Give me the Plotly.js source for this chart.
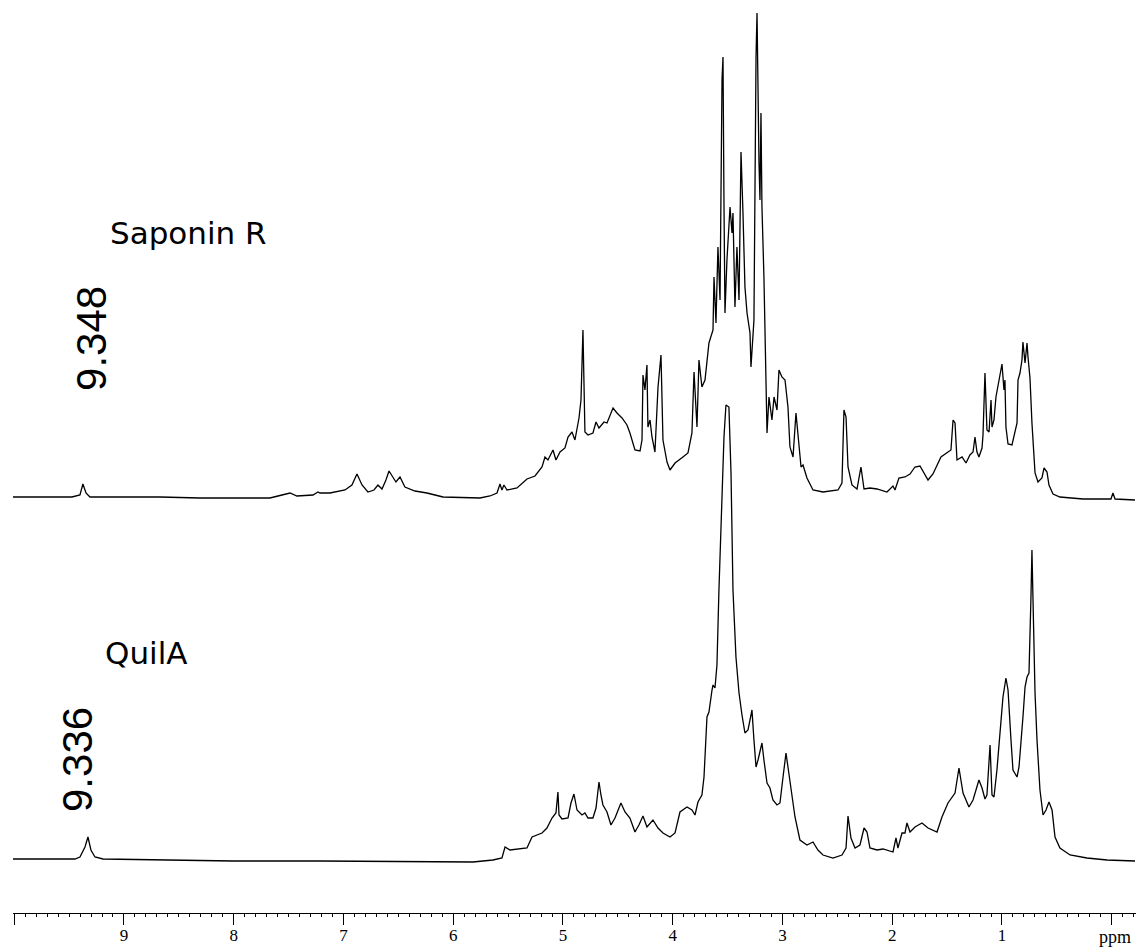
<!DOCTYPE html>
<html>
<head>
<meta charset="utf-8">
<script src="https://cdn.plot.ly/plotly-3.0.1.min.js"></script>
<style>html,body{margin:0;padding:0;background:#fff;}#chart{width:1141px;height:947px;}</style>
</head>
<body>
<div id="chart"></div>
<script>
// Chemical shift (ppm) and intensity (arbitrary units) for Saponin R
const saponinPpm = [10.011,9.474,9.401,9.374,9.346,9.310,8.672,8.308,7.670,7.551,7.487,7.424,7.278,7.232,7.214,7.123,6.986,6.923,6.877,6.831,6.777,6.722,6.686,6.649,6.613,6.585,6.549,6.522,6.485,6.440,6.349,6.239,6.093,5.756,5.665,5.601,5.574,5.556,5.538,5.510,5.419,5.328,5.255,5.191,5.164,5.137,5.091,5.064,5.027,4.982,4.954,4.918,4.891,4.854,4.836,4.818,4.800,4.772,4.727,4.699,4.672,4.626,4.599,4.544,4.508,4.462,4.417,4.390,4.344,4.298,4.280,4.271,4.253,4.235,4.226,4.207,4.189,4.162,4.134,4.107,4.089,4.052,4.025,3.979,3.907,3.861,3.825,3.806,3.779,3.761,3.734,3.706,3.670,3.633,3.624,3.606,3.588,3.569,3.551,3.542,3.533,3.524,3.506,3.478,3.460,3.451,3.433,3.415,3.396,3.378,3.360,3.342,3.323,3.296,3.287,3.269,3.260,3.241,3.232,3.214,3.205,3.196,3.187,3.169,3.150,3.141,3.123,3.096,3.077,3.050,3.032,3.005,2.977,2.950,2.932,2.904,2.877,2.859,2.831,2.813,2.777,2.722,2.631,2.494,2.458,2.440,2.421,2.403,2.367,2.321,2.285,2.257,2.203,2.139,2.048,1.993,1.975,1.939,1.884,1.838,1.793,1.747,1.720,1.674,1.629,1.592,1.556,1.492,1.465,1.446,1.428,1.410,1.364,1.328,1.292,1.264,1.246,1.228,1.210,1.182,1.173,1.155,1.146,1.137,1.118,1.100,1.091,1.073,1.055,1.036,1.009,1.000,0.982,0.973,0.964,0.945,0.909,0.891,0.863,0.854,0.836,0.818,0.809,0.790,0.772,0.763,0.745,0.727,0.718,0.699,0.672,0.636,0.617,0.590,0.572,0.535,0.472,0.262,0.007,-0.011,-0.030,-0.212];
const saponinInt = [0,0,2,13,4,0,0,-1,-1,2,4,1,2,5,4,4,7,12,23,12,5,7,12,8,17,26,19,15,20,10,6,4,0,-1,1,4,13,7,12,7,9,18,21,30,40,37,47,37,45,49,60,65,57,79,97,167,65,62,64,75,69,75,74,89,84,79,72,64,47,46,57,122,107,132,70,77,60,45,110,142,57,35,27,34,40,44,64,125,70,137,110,117,154,167,220,174,250,197,417,440,294,184,237,290,264,284,190,250,197,345,284,210,184,164,130,167,177,440,484,334,297,384,290,220,107,64,100,77,100,87,127,120,117,90,50,40,84,60,30,32,19,7,5,7,14,87,80,30,12,8,30,8,9,8,5,11,7,19,20,23,30,31,26,17,23,32,40,45,47,77,74,37,40,34,42,45,60,45,40,49,62,124,89,67,65,97,70,77,100,112,130,133,107,117,70,53,52,62,74,117,124,137,155,134,154,140,119,74,57,24,15,19,29,25,12,3,0,-2,-2,4,-2,-3];

// Chemical shift (ppm) and intensity (arbitrary units) for QuilA
const quilaPpm = [10.011,9.447,9.401,9.355,9.328,9.301,9.264,9.191,8.007,7.214,5.820,5.638,5.556,5.528,5.483,5.419,5.328,5.282,5.237,5.191,5.146,5.100,5.064,5.046,5.036,5.009,4.954,4.927,4.900,4.872,4.827,4.800,4.772,4.727,4.699,4.672,4.654,4.636,4.599,4.563,4.526,4.472,4.435,4.390,4.344,4.308,4.271,4.235,4.180,4.134,4.089,4.025,3.979,3.934,3.870,3.825,3.797,3.770,3.734,3.715,3.688,3.670,3.642,3.633,3.615,3.597,3.579,3.551,3.533,3.515,3.488,3.469,3.451,3.424,3.396,3.369,3.342,3.314,3.278,3.260,3.241,3.223,3.187,3.169,3.141,3.114,3.087,3.050,3.023,2.995,2.968,2.950,2.913,2.886,2.841,2.777,2.722,2.677,2.631,2.540,2.458,2.421,2.403,2.376,2.339,2.294,2.257,2.230,2.203,2.139,2.084,1.993,1.966,1.948,1.911,1.884,1.866,1.838,1.793,1.729,1.674,1.592,1.547,1.492,1.428,1.392,1.355,1.301,1.264,1.210,1.182,1.155,1.137,1.109,1.091,1.073,1.046,1.018,0.991,0.964,0.945,0.918,0.900,0.863,0.845,0.809,0.790,0.772,0.754,0.736,0.727,0.718,0.699,0.681,0.654,0.626,0.599,0.572,0.544,0.517,0.472,0.380,0.226,0.043,-0.212];
const quilaInt = [1,1,3,13,23,10,3,1,-1,-1,-2,0,2,13,10,11,12,23,25,27,32,42,47,68,45,41,42,57,66,50,45,47,42,42,52,78,65,55,48,35,42,57,48,42,28,35,44,33,40,32,27,23,27,48,53,50,45,58,65,83,143,148,170,175,172,195,270,353,423,455,453,387,270,203,167,145,127,130,150,120,93,100,117,100,77,72,60,55,57,83,107,93,62,43,20,15,18,10,5,2,5,12,44,22,12,15,32,28,12,10,11,8,22,12,27,27,37,28,33,37,32,28,43,57,67,92,67,53,60,80,72,61,65,115,65,63,90,127,163,182,170,120,90,83,93,143,173,183,187,263,310,263,167,120,70,45,50,58,50,23,12,5,2,0,-1];

// Axis ticks
const tickVals = [10,9,8,7,6,5,4,3,2,1,0];
const tickText = ["","9","8","7","6","5","4","3","2","1",""];

// Text labels
const sampleNames = ["Saponin R","QuilA"];
const shiftLabels = ["9.348","9.336"];
const unitLabel = "ppm";

const traces = [
  {x: saponinPpm, y: saponinInt, type: 'scatter', mode: 'lines', name: sampleNames[0],
   line: {color: '#000', width: 1.3}, yaxis: 'y2', hoverinfo: 'x+y'},
  {x: quilaPpm, y: quilaInt, type: 'scatter', mode: 'lines', name: sampleNames[1],
   line: {color: '#000', width: 1.3}, yaxis: 'y', hoverinfo: 'x+y'}
];

const layout = {
  width: 1141, height: 947,
  margin: {l: 13, r: 5, t: 0, b: 34, pad: 0},
  paper_bgcolor: '#fff', plot_bgcolor: '#fff',
  showlegend: false,
  xaxis: {
    range: [10.011, -0.221], autorange: false,
    showgrid: false, zeroline: false,
    showline: true, linecolor: '#000', linewidth: 1,
    ticks: 'outside', ticklen: 11, tickwidth: 1, tickcolor: '#000',
    ticklabelstandoff: -4,
    tickmode: 'array', tickvals: tickVals, ticktext: tickText,
    tickfont: {family: 'Liberation Serif', size: 17, color: '#000'},
    minor: {dtick: 0.1, tick0: 0, ticks: 'outside', ticklen: 3, tickwidth: 1, tickcolor: '#000', showgrid: false}
  },
  yaxis: {range: [-53, 860], visible: false, fixedrange: true},
  yaxis2: {range: [-416, 497], visible: false, overlaying: 'y', fixedrange: true},
  annotations: [
    {text: sampleNames[0], xref: 'paper', yref: 'paper', x: 0.1567, y: 0.7448, xanchor: 'center', yanchor: 'middle',
     showarrow: false, font: {family: 'DejaVu Sans', size: 31, color: '#000'}},
    {text: sampleNames[1], xref: 'paper', yref: 'paper', x: 0.1184, y: 0.2848, xanchor: 'center', yanchor: 'middle',
     showarrow: false, font: {family: 'DejaVu Sans', size: 31, color: '#000'}},
    {text: shiftLabels[0], xref: 'paper', yref: 'paper', x: 0.0703, y: 0.6298, xanchor: 'center', yanchor: 'middle',
     textangle: -90, showarrow: false, font: {family: 'Liberation Sans', size: 42, color: '#000'}},
    {text: shiftLabels[1], xref: 'paper', yref: 'paper', x: 0.0579, y: 0.1676, xanchor: 'center', yanchor: 'middle',
     textangle: -90, showarrow: false, font: {family: 'Liberation Sans', size: 42, color: '#000'}},
    {text: unitLabel, xref: 'paper', yref: 'paper', x: 0.9813, y: -0.0263, xanchor: 'center', yanchor: 'middle',
     showarrow: false, font: {family: 'Liberation Serif', size: 18, color: '#000'}}
  ]
};

Plotly.newPlot('chart', traces, layout, {displayModeBar: false, staticPlot: true});
</script>
</body>
</html>
